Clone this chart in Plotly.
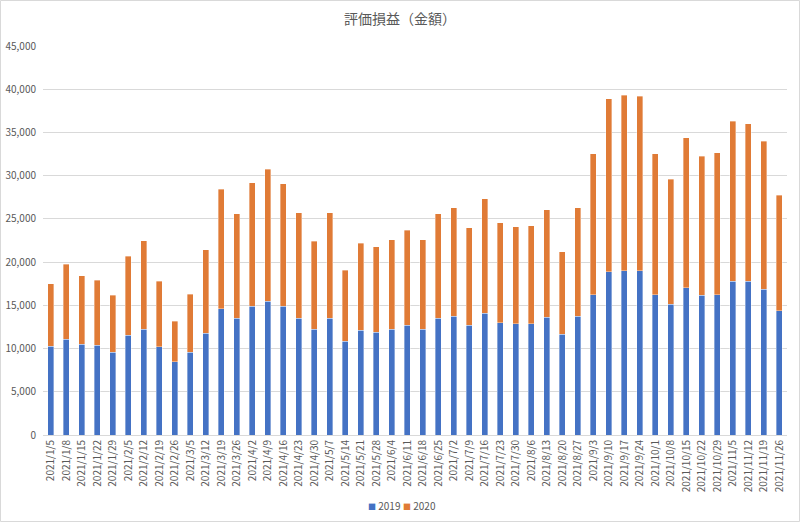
import plotly.graph_objects as go

dates = ["2021/1/5", "2021/1/8", "2021/1/15", "2021/1/22", "2021/1/29", "2021/2/5", "2021/2/12",
         "2021/2/19", "2021/2/26", "2021/3/5", "2021/3/12", "2021/3/19", "2021/3/26", "2021/4/2",
         "2021/4/9", "2021/4/16", "2021/4/23", "2021/4/30", "2021/5/7", "2021/5/14", "2021/5/21",
         "2021/5/28", "2021/6/4", "2021/6/11", "2021/6/18", "2021/6/25", "2021/7/2", "2021/7/9",
         "2021/7/16", "2021/7/23", "2021/7/30", "2021/8/6", "2021/8/13", "2021/8/20", "2021/8/27",
         "2021/9/3", "2021/9/10", "2021/9/17", "2021/9/24", "2021/10/1", "2021/10/8", "2021/10/15",
         "2021/10/22", "2021/10/29", "2021/11/5", "2021/11/12", "2021/11/19", "2021/11/26"]

values_2019 = [10250, 11090, 10480, 10360, 9590, 11520, 12210, 10210, 8470, 9550, 11750, 14600,
               13480, 14870, 15490, 14870, 13480, 12210, 13480, 10820, 12100, 11860, 12210, 12710,
               12210, 13480, 13710, 12710, 14100, 12980, 12870, 12870, 13600, 11630, 13710, 16220,
               18910, 19030, 19030, 16220, 15100, 17030, 16140, 16220, 17760, 17760, 16870, 14370]

totals = [17490, 19760, 18410, 17910, 16140, 20690, 22460, 17760, 13140, 16260, 21420, 28430,
          25580, 29200, 30740, 29080, 25690, 22420, 25690, 19070, 22190, 21800, 22570, 23690,
          22570, 25620, 26310, 23960, 27350, 24580, 24080, 24190, 26080, 21190, 26310, 32510,
          38910, 39290, 39180, 32510, 29580, 34400, 32240, 32630, 36290, 36020, 34010, 27730]

values_2020 = [t - b for t, b in zip(totals, values_2019)]

series_names = ["2019", "2020"]
series_colors = ["#4472C4", "#E07B36"]

y_ticks = list(range(0, 45001, 5000))

W, H = 800, 522
L, R, T, B = 43, 13, 46, 87
pw, ph = W - L - R, H - T - B

font_main = "Noto Sans CJK JP, Noto Sans, sans-serif"

fig = go.Figure()
for name, vals, col in zip(series_names, [values_2019, values_2020], series_colors):
    fig.add_trace(go.Bar(x=dates, y=vals, name=name,
                         marker=dict(color=col, line=dict(width=0.6, color="rgba(255,255,255,0.6)"))))

# legend drawn as text at the bottom, Excel-style
legend_y = -(505 - (T + ph)) / ph
legend_x = [(384 - L) / pw, (419 - L) / pw]
annotations = []
for name, col, lx in zip(series_names, series_colors, legend_x):
    annotations.append(dict(
        text=f"<span style='color:{col};font-size:8px'>■</span> {name}", xref="paper", yref="paper",
        x=lx, y=legend_y, xanchor="center", yanchor="middle", showarrow=False,
        font=dict(size=10, color="#595959", family=font_main)))

fig.update_layout(
    width=W, height=H,
    barmode="stack", bargap=0.6,
    margin=dict(l=L, r=R, t=T, b=B, autoexpand=False),
    paper_bgcolor="white", plot_bgcolor="white",
    font=dict(family=font_main, color="#595959", size=10),
    title=dict(text="評価損益（金額）", x=0.5, xanchor="center", y=1 - 19 / H, yanchor="middle",
               font=dict(size=14, color="#595959", family=font_main)),
    showlegend=False,
    annotations=annotations,
    xaxis=dict(type="category", tickangle=-90, tickfont=dict(size=10, color="#595959"),
               showgrid=False, showline=True, linecolor="#D9D9D9", linewidth=1, ticks="",
               range=[-0.5, len(dates) - 0.5]),
    yaxis=dict(range=[0, 45000], tickvals=y_ticks, tickformat=",d", showgrid=True,
               gridcolor="#D9D9D9", gridwidth=1, zeroline=False, showline=False, ticks="",
               tickfont=dict(size=10, color="#595959"), ticklabelstandoff=6),
    shapes=[dict(type="rect", xref="paper", yref="paper",
                 x0=(0.5 - L) / pw, x1=(W - 0.5 - L) / pw,
                 y0=-(H - 0.5 - T - ph) / ph, y1=(T + ph - 0.5) / ph,
                 line=dict(color="#D9D9D9", width=1), fillcolor="rgba(0,0,0,0)", layer="below")],
)

fig.write_html("out.html", config={"displayModeBar": False},
               post_script="document.body.style.margin='0';document.body.style.overflow='hidden';")
